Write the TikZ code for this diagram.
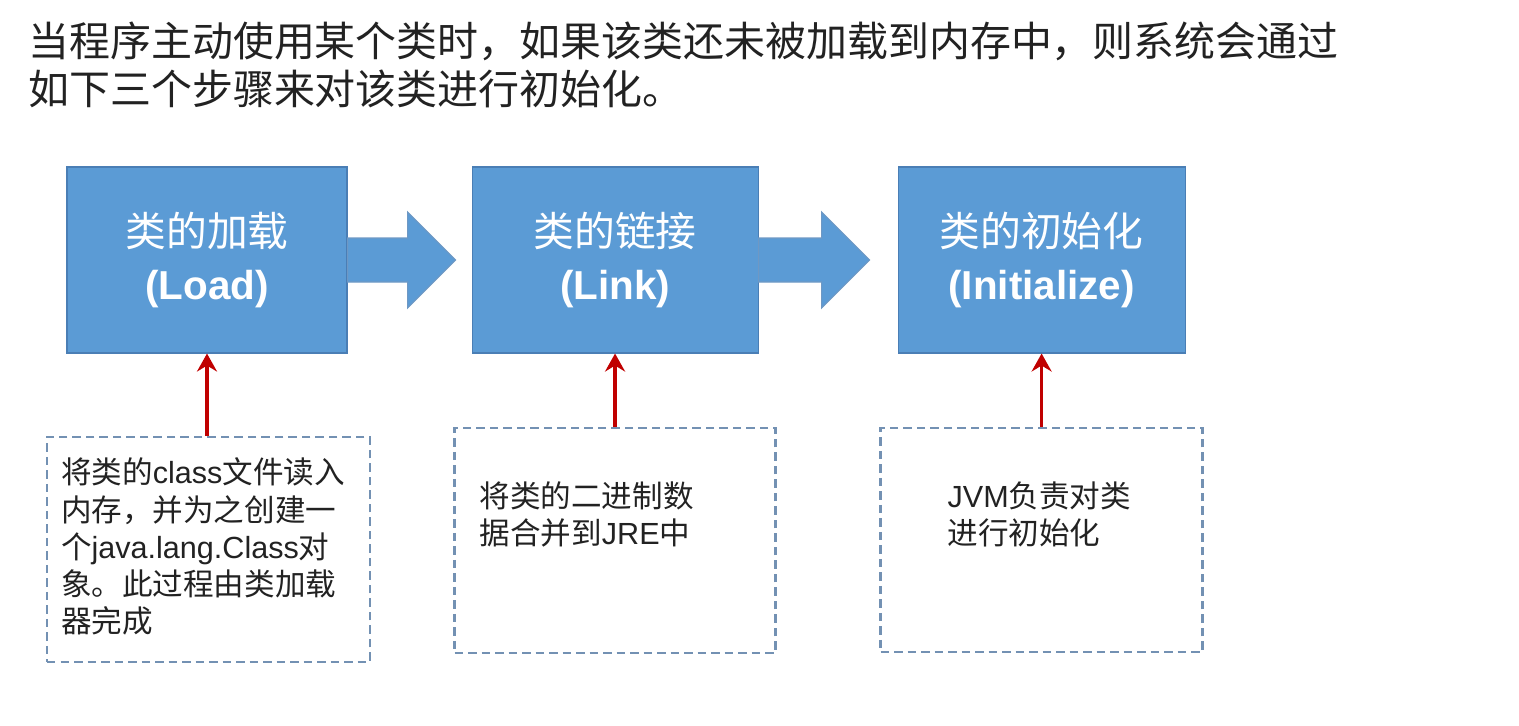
\documentclass[tikz,border=0pt]{standalone}
\usepackage{fontspec}
\setmainfont{Noto Sans CJK SC}
\newfontfamily\lat{Liberation Sans}
\usepackage{xcolor}
\usepackage{tikz}
\usetikzlibrary{arrows.meta, positioning, calc}
\definecolor{stageFill}{HTML}{5B9BD5}
\definecolor{stageBorder}{HTML}{4A7EB5}
\definecolor{noteBorder}{HTML}{7391B3}
\definecolor{feedRed}{HTML}{C00000}
\definecolor{introText}{HTML}{222222}

\begin{document}
\begin{tikzpicture}[
  stage/.style={rectangle, minimum width=5.6cm, minimum height=3.72cm, align=center, text=white, fill=stageFill, draw=stageBorder, line width=0.6pt, inner sep=0pt, font=\fontsize{23.2}{30}\selectfont},
  note/.style={rectangle, minimum width=6.46cm, minimum height=4.5cm, draw=noteBorder, line width=1.5pt, dash pattern=on 0.17cm off 0.1cm, inner sep=0pt},
  notetext/.style={anchor=north west, align=left, inner sep=0pt, text=introText, font=\fontsize{17.4}{21.2}\selectfont},
  flow/.style={fill=stageFill, draw=stageBorder!80!white, line width=0.6pt, line join=miter},
  feed/.style={-{Stealth[length=0.36cm, width=0.4cm, inset=0.12cm]}, draw=feedRed, line width=1.9pt}
]
  \useasboundingbox (0,0) rectangle (30.38,-14.52);

  % Intro text
  \node (intro) [anchor=north west, align=left, inner sep=0pt, text=introText, font=\fontsize{23.3}{27}\selectfont] at (0.56,-0.44)
    {当程序主动使用某个类时，如果该类还未被加载到内存中，则系统会通过\\如下三个步骤来对该类进行初始化。};

  % Stages
  \node (load) [stage] at (4.14,-5.2) {类的加载\\{\lat\bfseries\fontsize{23}{30}\selectfont (Load)}};
  \node (link) [stage, minimum width=5.72cm, right=2.48cm of load] {类的链接\\{\lat\bfseries\fontsize{23}{30}\selectfont (Link)}};
  \node (init) [stage, minimum width=5.74cm, right=2.78cm of link] {类的初始化\\{\lat\bfseries\fontsize{23}{30}\selectfont (Initialize)}};

  % Notes
  \node (loadnote) [note, below=1.64cm of load, xshift=0.03cm] {};
  \node (linknote) [note, minimum width=6.42cm, below=1.46cm of link] {};
  \node (initnote) [note, minimum width=6.44cm, minimum height=4.48cm, below=1.46cm of init] {};

  \node (loadtext) [notetext] at ($(loadnote.north west)+(0.3,-0.44)$)
    {将类的{\lat class}文件读入\\内存，并为之创建一\\个{\lat java.lang.Class}对\\象。此过程由类加载\\器完成};
  \node (linktext) [notetext] at ($(linknote.north west)+(0.52,-1.1)$)
    {将类的二进制数\\据合并到{\lat JRE}中};
  \node (inittext) [notetext] at ($(initnote.north west)+(1.36,-1.1)$)
    {{\lat JVM}负责对类\\进行初始化};

  % Block arrows
  \draw [flow] ($(load.east)+(0,0.44)$) -- ++(1.2,0) -- ++(0,0.52) -- ($(link.west)+(-0.32,0)$)
    -- ++(-0.96,-0.96) -- ++(0,0.52) -- ($(load.east)+(0,-0.44)$) -- cycle;
  \draw [flow] ($(link.east)+(0,0.44)$) -- ++(1.26,0) -- ++(0,0.52) -- ($(init.west)+(-0.56,0)$)
    -- ++(-0.96,-0.96) -- ++(0,0.52) -- ($(link.east)+(0,-0.44)$) -- cycle;

  % Feed arrows
  \draw [feed] (load.south |- loadnote.north) -- (load.south);
  \draw [feed] (link.south |- linknote.north) -- (link.south);
  \draw [feed] (init.south |- initnote.north) -- (init.south);
\end{tikzpicture}
\end{document}
